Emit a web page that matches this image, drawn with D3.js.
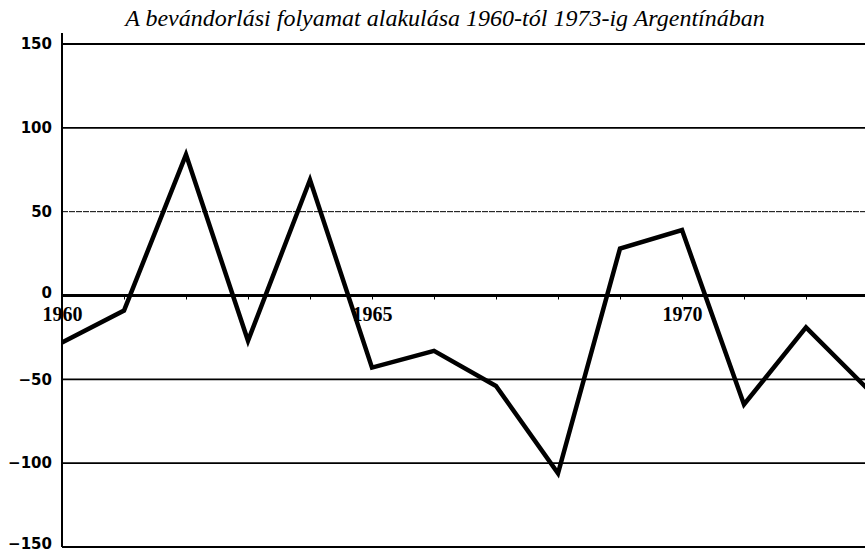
<!DOCTYPE html>
<html>
<head>
<meta charset="utf-8">
<script src="https://cdn.jsdelivr.net/npm/d3@7"></script>
<style>
  body { margin: 0; background: #fff; }
  svg { display: block; }
</style>
</head>
<body>
<div id="main"></div>
<script>
// data
var years = [1960, 1961, 1962, 1963, 1964, 1965, 1966, 1967, 1968, 1969, 1970, 1971, 1972, 1973];
var values = [-28, -9, 84, -27, 69, -43, -33, -54, -106, 28, 39, -65, -19, -56];
var yTicks = [150, 100, 50, 0, -50, -100, -150];
var xLabels = [1960, 1965, 1970];
var title = "A bevándorlási folyamat alakulása 1960-tól 1973-ig Argentínában";

var w = 865,
	h = 553;

var x = d3.scaleLinear()
	.domain([1960, 1973])
	.range([62, 868]);

var y = d3.scaleLinear()
	.domain([-150, 150])
	.range([547, 44]);

var svg = d3.select("#main")
	.append("svg")
	.attr("width", w)
	.attr("height", h);

// title
svg.append("text")
	.attr("x", 445)
	.attr("y", 26)
	.attr("text-anchor", "middle")
	.style("font-family", "'Liberation Serif', 'Times New Roman', serif")
	.style("font-style", "italic")
	.style("font-size", "24px")
	.text(title);

// horizontal gridlines
svg.selectAll("line.grid")
	.data(yTicks)
	.enter()
	.append("line")
	.attr("class", "grid")
	.attr("x1", x(1960))
	.attr("x2", w)
	.attr("y1", function(d) { return y(d); })
	.attr("y2", function(d) { return y(d); })
	.attr("stroke", "#000")
	.attr("stroke-width", function(d) { return d === 0 ? 3 : (d === 50 ? 1 : 1.8); })
	.attr("stroke-dasharray", function(d) { return d === 50 ? "6,1" : null; });

// y axis
var yAxis = d3.axisLeft(y)
	.tickValues(yTicks)
	.tickSize(0)
	.tickPadding(10);

var gy = svg.append("g")
	.attr("transform", "translate(" + x(1960) + ",0)")
	.call(yAxis);

gy.select(".domain")
	.attr("d", "M0," + (y(150) - 11) + "V" + y(-150))
	.attr("stroke-width", 2);

gy.selectAll("text")
	.style("font-family", "'DejaVu Sans', sans-serif")
	.style("font-weight", "bold")
	.style("font-size", "15px")
	.attr("dy", function(d) { return d === -150 ? "0.1em" : (d === 0 ? "0.1em" : "0.32em"); });

// year ticks on the zero line
var xAxis = d3.axisBottom(x)
	.tickValues(years)
	.tickSize(4)
	.tickFormat(function(d) { return xLabels.indexOf(d) >= 0 ? d : ""; });

var gx = svg.append("g")
	.attr("transform", "translate(0," + y(0) + ")")
	.call(xAxis);

gx.select(".domain").remove();

gx.selectAll("text")
	.attr("y", 25)
	.attr("dy", "0")
	.style("font-family", "'Liberation Serif', 'Times New Roman', serif")
	.style("font-weight", "bold")
	.style("font-size", "20px");

// series line
var line = d3.line()
	.x(function(d, i) { return x(years[i]); })
	.y(function(d) { return y(d); });

svg.append("path")
	.datum(values)
	.attr("d", line)
	.attr("fill", "none")
	.attr("stroke", "#000")
	.attr("stroke-width", 4.5)
	.attr("stroke-linejoin", "miter");
</script>
</body>
</html>
